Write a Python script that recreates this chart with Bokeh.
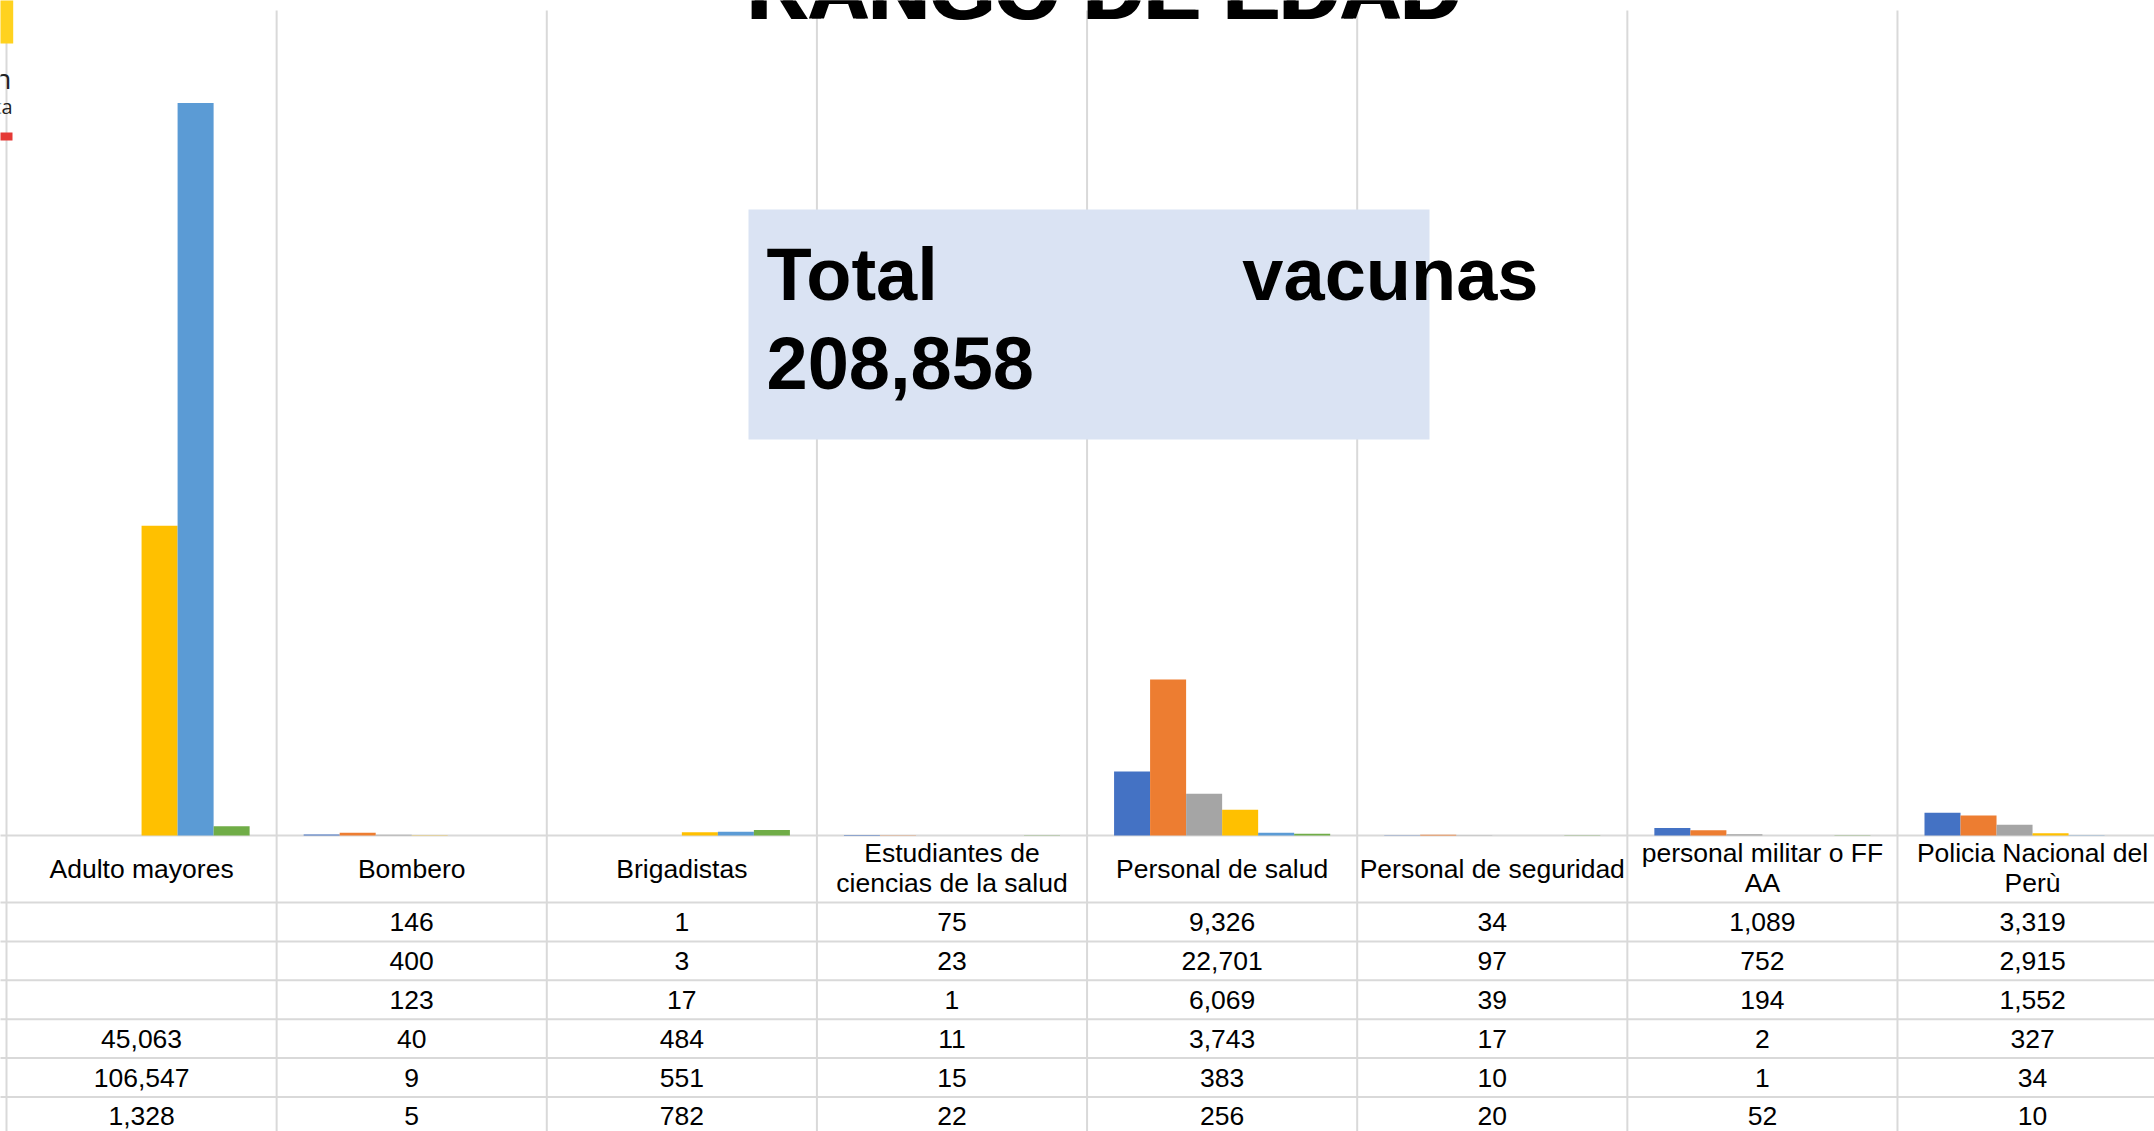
from bokeh.plotting import figure
from bokeh.models import Range1d
from bokeh.core.properties import value
from bokeh.embed import file_html
from bokeh.resources import INLINE

# ---------------- data ----------------
categories = [
    "Adulto mayores",
    "Bombero",
    "Brigadistas",
    "Estudiantes de ciencias de la salud",
    "Personal de salud",
    "Personal de seguridad",
    "personal militar o FF AA",
    "Policia Nacional del Perù",
]
header_lines = [
    ["Adulto mayores"],
    ["Bombero"],
    ["Brigadistas"],
    ["Estudiantes de", "ciencias de la salud"],
    ["Personal de salud"],
    ["Personal de seguridad"],
    ["personal militar o FF", "AA"],
    ["Policia Nacional del", "Perù"],
]
serie_1 = [None, 146, 1, 75, 9326, 34, 1089, 3319]
serie_2 = [None, 400, 3, 23, 22701, 97, 752, 2915]
serie_3 = [None, 123, 17, 1, 6069, 39, 194, 1552]
serie_4 = [45063, 40, 484, 11, 3743, 17, 2, 327]
serie_5 = [106547, 9, 551, 15, 383, 10, 1, 34]
serie_6 = [1328, 5, 782, 22, 256, 20, 52, 10]
series = [serie_1, serie_2, serie_3, serie_4, serie_5, serie_6]
colors = ["#4472C4", "#ED7D31", "#A5A5A5", "#FFC000", "#5B9BD5", "#70AD47"]
title = "RANGO DE EDAD"
total_label = ["Total", "vacunas"]
total_value = "208,858"
y_max = 120000

# ---------------- layout (page pixels) ----------------
W, H = 2154, 1131
PAGE_L, PAGE_T = 0, 0
CAT0_PX, CAT_W = 6.0, 270.14      # x of first category boundary, category width
TOP_PX, BASE_PX = 10.0, 835.0     # y of axis max, y of zero
units_per_px = y_max / (BASE_PX - TOP_PX)

x0 = (PAGE_L - CAT0_PX) / CAT_W
x1 = (PAGE_L + W - CAT0_PX) / CAT_W
y_top = (BASE_PX - PAGE_T) * units_per_px
y_bot = -(PAGE_T + H - BASE_PX) * units_per_px

p = figure(width=W, height=H, x_range=Range1d(x0, x1), y_range=Range1d(y_bot, y_top),
           output_backend="svg", toolbar_location=None, min_border=0,
           x_axis_location=None, y_axis_location=None,
           outline_line_color=None, background_fill_color="white",
           border_fill_color="white")
p.grid.visible = False
p.extra_x_ranges = {"px": Range1d(PAGE_L, PAGE_L + W)}
p.extra_y_ranges = {"py": Range1d(PAGE_T + H, PAGE_T)}

FONT = value("Liberation Sans")
GRID = "#D9D9D9"
BL = 0.36  # baseline correction (fraction of font size) for svg text placement


def base(y, size):
    return y - BL * size


# vertical category separators (through plot and table)
n = len(categories)
p.segment(x0=list(range(n + 1)), x1=list(range(n + 1)),
          y0=[TOP_PX] * (n + 1), y1=[PAGE_T + H + 5] * (n + 1),
          y_range_name="py", line_color=GRID, line_width=2)

# table horizontal lines
ROW0, ROW_H = 902.0, 38.9
hlines = [BASE_PX] + [ROW0 + ROW_H * k for k in range(7)]
p.segment(x0=[-10] * len(hlines), x1=[PAGE_L + W + 10] * len(hlines), y0=hlines, y1=hlines,
          x_range_name="px", y_range_name="py", line_color=GRID, line_width=2)

# bars
group = 0.8
bw = group / len(series)
for j, (vals, col) in enumerate(zip(series, colors)):
    xs, tops = [], []
    for i, v in enumerate(vals):
        if v is None:
            continue
        xs.append(i + (1 - group) / 2 + bw * (j + 0.5))
        tops.append(v)
    p.vbar(x=xs, top=tops, bottom=0, width=bw, fill_color=col, line_color=None)

TS = 26.5
# table header
hx, hy, ht = [], [], []
for i, lines in enumerate(header_lines):
    if len(lines) == 1:
        hx.append(i + 0.5); hy.append(base(878.0, TS)); ht.append(lines[0])
    else:
        for k, ln in enumerate(lines):
            hx.append(i + 0.5); hy.append(base(862.5 + 30 * k, TS)); ht.append(ln)
p.text(x=hx, y=hy, text=ht, y_range_name="py", text_font=FONT, text_font_size=f"{TS}px",
       text_align="center", text_baseline="alphabetic", text_color="#000000")

# table values
tx, ty, tt = [], [], []
for r, vals in enumerate(series):
    for i, v in enumerate(vals):
        if v is None:
            continue
        tx.append(i + 0.5)
        ty.append(base(ROW0 + ROW_H * r + ROW_H / 2 + 9.5, TS))
        tt.append(f"{v:,}")
p.text(x=tx, y=ty, text=tt, y_range_name="py", text_font=FONT, text_font_size=f"{TS}px",
       text_align="center", text_baseline="alphabetic", text_color="#000000")

# title (cut off at the top in the reference) - drawn twice, slightly offset, for a heavy weight
TT = 84
p.text(x=[1102.5, 1105.5], y=[base(20, TT)] * 2, text=[title] * 2, x_range_name="px",
       y_range_name="py", text_font=FONT, text_font_style="bold", text_font_size=f"{TT}px",
       text_align="center", text_baseline="alphabetic", text_color="#000000")

# total box
BS = 74
p.quad(left=[748], right=[1429], top=[209], bottom=[439], x_range_name="px",
       y_range_name="py", fill_color="#DAE3F3", line_color=None)
p.text(x=[766], y=[base(301, BS)], text=[total_label[0]], x_range_name="px", y_range_name="py",
       text_font=FONT, text_font_style="bold", text_font_size=f"{BS}px",
       text_align="left", text_baseline="alphabetic", text_color="#000000")
p.text(x=[1538], y=[base(301, BS)], text=[total_label[1]], x_range_name="px", y_range_name="py",
       text_font=FONT, text_font_style="bold", text_font_size=f"{BS}px",
       text_align="right", text_baseline="alphabetic", text_color="#000000")
p.text(x=[766], y=[base(389, BS)], text=[total_value], x_range_name="px", y_range_name="py",
       text_font=FONT, text_font_style="bold", text_font_size=f"{BS}px",
       text_align="left", text_baseline="alphabetic", text_color="#000000")

# logo fragments at the far left edge
p.quad(left=[-20], right=[12.7], top=[-5], bottom=[43], x_range_name="px",
       y_range_name="py", fill_color="#FFD21F", line_color=None)
p.quad(left=[-20], right=[12], top=[132], bottom=[140], x_range_name="px",
       y_range_name="py", fill_color="#E53935", line_color=None)
p.text(x=[11], y=[base(88, 28)], text=["n"], x_range_name="px", y_range_name="py",
       text_font=value("Open Sans"), text_font_size="28px", text_align="right",
       text_baseline="alphabetic", text_color="#222222")
p.text(x=[12], y=[base(113, 20)], text=["ta"], x_range_name="px", y_range_name="py",
       text_font=value("Open Sans"), text_font_size="20px", text_align="right",
       text_baseline="alphabetic", text_color="#222222")

open("out.html", "w").write(file_html(p, INLINE))
